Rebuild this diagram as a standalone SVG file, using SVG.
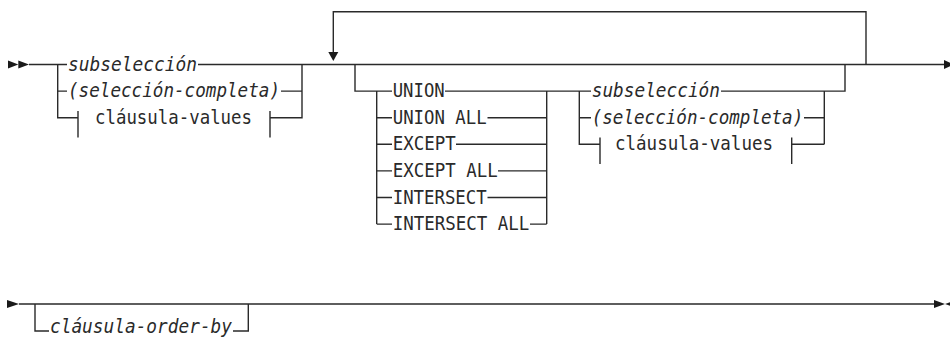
<svg xmlns="http://www.w3.org/2000/svg" width="950" height="338" viewBox="0 0 950 338">
<style>
.ln{fill:none;stroke:#2a2a2a;stroke-width:1.4;stroke-linecap:butt}
.ar{fill:#1a1a1a;stroke:none}
.t{font-family:"DejaVu Sans Mono","Liberation Mono",monospace;font-size:20px;fill:#2a2a2a}
.i{font-style:italic}
</style>
<rect width="950" height="338" fill="#ffffff"/>
<g id="connectors">
<path class="ln" d="M29 64.5H67 M198 64.5H944"/>
<path class="ln" d="M57.7 64.5V117.7H78 M57.7 91.1H67 M281 91.1H302 M270 117.7H302V64.5 M78 111V137.5 M270 111V137.5"/>
<path class="ln" d="M333.3 53V11.7H866V64.5"/>
<polygon class="ar" points="328.3,52 338.3,52 333.3,61"/>
<path class="ln" d="M355 64.5V91.1H392 M376.7 91.1V224.1 M546.7 91.1V224.1 M445 91.1H591 M721 91.1H845V64.5"/>
<path class="ln" d="M376.7 117.7H392 M487.5 117.7H546.7 M376.7 144.3H392 M456 144.3H546.7 M376.7 170.9H392 M498 170.9H546.7 M376.7 197.5H392 M487.5 197.5H546.7 M376.7 224.1H392 M530 224.1H546.7"/>
<path class="ln" d="M579.3 91.1V144.3H600 M579.3 117.7H591 M804 117.7H824.3 M791.7 144.3H824.3 M824.3 91.1V144.3 M600 137.6V164.1 M791.7 137.6V164.1"/>
<polygon class="ar" points="8,60.5 18.3,64.5 8,68.5"/>
<polygon class="ar" points="18.3,60.5 29,64.5 18.3,68.5"/>
<polygon class="ar" points="944,60 954,64.5 944,69"/>
<polygon class="ar" points="7,300 19,304 7,308"/>
<path class="ln" d="M19 304H934 M35 304V331H49 M233 331H248.3V304"/>
<polygon class="ar" points="934,300 945,304 934,308"/>
<polygon class="ar" points="945,304 956,300 956,308"/>
</g>
<g id="node-subseleccion-1"><text class="t i" x="68" y="70.5" textLength="129" lengthAdjust="spacingAndGlyphs">subselección</text></g>
<g id="node-seleccion-completa-1"><text class="t i" x="68" y="97.1" textLength="212" lengthAdjust="spacingAndGlyphs">(selección-completa)</text></g>
<g id="node-clausula-values-1"><text class="t" x="95" y="123.7" textLength="157" lengthAdjust="spacingAndGlyphs">cláusula-values</text></g>
<g id="node-union"><text class="t" x="392.7" y="97.1" textLength="52" lengthAdjust="spacingAndGlyphs">UNION</text></g>
<g id="node-union-all"><text class="t" x="392.7" y="123.7" textLength="94" lengthAdjust="spacingAndGlyphs">UNION ALL</text></g>
<g id="node-except"><text class="t" x="392.7" y="150.3" textLength="63" lengthAdjust="spacingAndGlyphs">EXCEPT</text></g>
<g id="node-except-all"><text class="t" x="392.7" y="176.9" textLength="105" lengthAdjust="spacingAndGlyphs">EXCEPT ALL</text></g>
<g id="node-intersect"><text class="t" x="392.7" y="203.5" textLength="94" lengthAdjust="spacingAndGlyphs">INTERSECT</text></g>
<g id="node-intersect-all"><text class="t" x="392.7" y="230.1" textLength="136.6" lengthAdjust="spacingAndGlyphs">INTERSECT ALL</text></g>
<g id="node-subseleccion-2"><text class="t i" x="591.7" y="97.1" textLength="128.3" lengthAdjust="spacingAndGlyphs">subselección</text></g>
<g id="node-seleccion-completa-2"><text class="t i" x="591.7" y="123.7" textLength="211.6" lengthAdjust="spacingAndGlyphs">(selección-completa)</text></g>
<g id="node-clausula-values-2"><text class="t" x="615" y="150.3" textLength="158" lengthAdjust="spacingAndGlyphs">cláusula-values</text></g>
<g id="node-clausula-order-by"><text class="t i" x="50" y="333" textLength="182" lengthAdjust="spacingAndGlyphs">cláusula-order-by</text></g>
</svg>
